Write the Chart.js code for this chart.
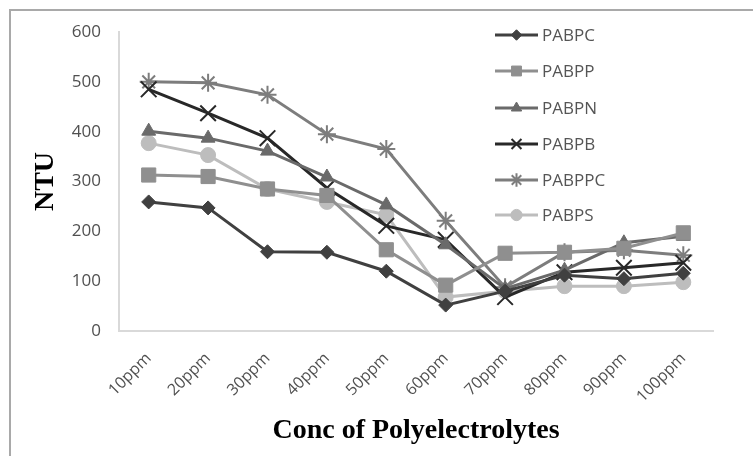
<!DOCTYPE html>
<html>
<head>
<meta charset="utf-8">
<script src="https://cdn.jsdelivr.net/npm/chart.js@4/dist/chart.umd.min.js"></script>
<style>
  html, body { margin: 0; padding: 0; background: #ffffff; }
  #wrap { position: relative; width: 753px; height: 456px; overflow: hidden; }
  #frame { position: absolute; left: 9px; top: 9px; width: 800px; height: 500px;
           border-left: 2px solid #a9a9a9; border-top: 2px solid #a9a9a9; box-sizing: border-box; }
  canvas { position: absolute; left: 0; top: 0; }
</style>
</head>
<body>
<div id="wrap">
  <div id="frame"></div>
  <canvas id="c" width="753" height="456"></canvas>
</div>
<script>
const categories = ['10ppm','20ppm','30ppm','40ppm','50ppm','60ppm','70ppm','80ppm','90ppm','100ppm'];
const seriesNames = ['PABPC','PABPP','PABPN','PABPB','PABPPC','PABPS'];
const PABPC  = [259, 247, 159, 158, 120, 52, 80, 112, 105, 116];
const PABPP  = [313, 310, 285, 272, 163, 92, 156, 158, 166, 197];
const PABPN  = [401, 387, 361, 309, 253, 173, 85, 122, 177, 190];
const PABPB  = [485, 437, 387, 287, 211, 183, 68, 118, 127, 137];
const PABPPC = [500, 498, 474, 395, 365, 221, 88, 158, 162, 152];
const PABPS  = [377, 353, 285, 259, 233, 68, 80, 90, 90, 98];
const yTicks = [0, 100, 200, 300, 400, 500, 600];

const styles = [
  { color: '#404040', point: 'rectRot',  r: 7 },
  { color: '#8f8f8f', point: 'rect',     r: 10 },
  { color: '#6a6a6a', point: 'triangle', r: 8 },
  { color: '#282828', point: 'crossRot', r: 11 },
  { color: '#7d7d7d', point: 'star',     r: 9 },
  { color: '#bdbdbd', point: 'circle',   r: 7.5 }
];
const values = [PABPC, PABPP, PABPN, PABPB, PABPPC, PABPS];

const datasets = seriesNames.map((name, i) => ({
  label: name,
  data: values[i],
  borderColor: styles[i].color,
  backgroundColor: styles[i].color,
  pointBackgroundColor: styles[i].color,
  pointBorderColor: styles[i].color,
  pointStyle: styles[i].point,
  pointRadius: styles[i].r,
  pointBorderWidth: (styles[i].point === 'crossRot' || styles[i].point === 'star') ? 2 : 1,
  borderWidth: 3,
  tension: 0,
  fill: false
}));

const legendPlugin = {
  id: 'customLegend',
  afterDraw(chart) {
    const ctx = chart.ctx;
    ctx.save();
    const x0 = 495, x1 = 538, tx = 542;
    const ys = [35, 71, 108, 144, 180, 215];
    chart.data.datasets.forEach((ds, i) => {
      const y = ys[i];
      ctx.strokeStyle = ds.borderColor;
      ctx.fillStyle = ds.borderColor;
      ctx.lineWidth = 3;
      ctx.beginPath();
      ctx.moveTo(x0, y);
      ctx.lineTo(x1, y);
      ctx.stroke();
      ctx.lineWidth = ds.pointBorderWidth;
      Chart.helpers.drawPoint(ctx, {
        pointStyle: ds.pointStyle,
        radius: Math.min(ds.pointRadius * 0.75, 7),
        rotation: 0,
        borderWidth: ds.pointBorderWidth
      }, (x0 + x1) / 2, y);
      ctx.fillStyle = '#555555';
      ctx.font = '17px "Open Sans"';
      ctx.textAlign = 'left';
      ctx.textBaseline = 'middle';
      ctx.fillText(ds.label, tx, y + 1);
    });
    ctx.restore();
  }
};

new Chart(document.getElementById('c'), {
  type: 'line',
  data: { labels: categories, datasets },
  options: {
    responsive: false,
    animation: false,
    devicePixelRatio: 1,
    layout: { padding: { top: 32, right: 40, left: 0, bottom: 0 } },
    plugins: { legend: { display: false }, tooltip: { enabled: false } },
    scales: {
      x: {
        offset: true,
        grid: { display: false, drawTicks: false },
        border: { display: true, color: '#d9d9d9', width: 2 },
        ticks: {
          color: '#505050',
          font: { family: '"Open Sans"', size: 16 },
          minRotation: 45, maxRotation: 45,
          padding: 18
        },
        title: {
          display: true,
          text: 'Conc of Polyelectrolytes',
          color: '#000000',
          font: { family: '"Liberation Serif"', size: 28, weight: 'bold' },
          padding: { top: 0, bottom: 8 }
        },
        afterFit(scale) { scale.height = 125; }
      },
      y: {
        min: 0, max: 600,
        afterBuildTicks(scale) { scale.ticks = yTicks.map(v => ({ value: v })); },
        grid: { display: false, drawTicks: false },
        border: { display: true, color: '#d9d9d9', width: 2 },
        ticks: {
          color: '#505050',
          font: { family: '"Open Sans"', size: 17 },
          padding: 18
        },
        title: {
          display: true,
          text: 'NTU',
          color: '#000000',
          font: { family: '"Liberation Serif"', size: 28, weight: 'bold' },
          padding: { top: 29, bottom: 0 }
        },
        afterFit(scale) { scale.width = 119; }
      }
    }
  },
  plugins: [legendPlugin]
});
</script>
</body>
</html>
